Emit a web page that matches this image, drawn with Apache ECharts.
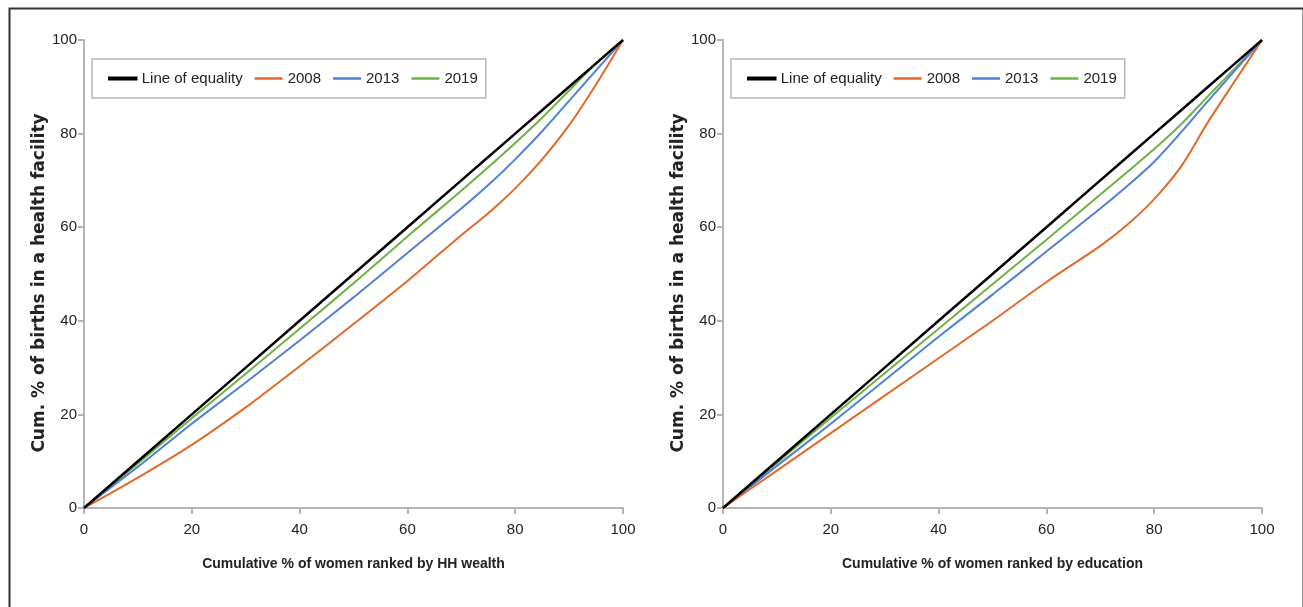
<!DOCTYPE html>
<html>
<head>
<meta charset="utf-8">
<script src="https://cdn.jsdelivr.net/npm/echarts@6/dist/echarts.min.js"></script>
<style>
html,body{margin:0;padding:0;background:#fff;}
#c{width:1303px;height:607px;}
</style>
</head>
<body>
<div id="c"></div>
<script>
// ---- data ----
const xPoints = [0, 10, 20, 30, 40, 50, 60, 70, 75, 80, 85, 90, 95, 100];
const seriesNames = ['Line of equality', '2008', '2013', '2019'];
const xTickLabels = ['0', '20', '40', '60', '80', '100'];
const yTickLabels = ['0', '20', '40', '60', '80', '100'];
const xTitles = ['Cumulative % of women ranked by HH wealth', 'Cumulative % of women ranked by education'];
const yTitle = 'Cum. % of births in a health facility';

// Panel 1: ranked by household wealth
const wealthEquality = [0, 10, 20, 30, 40, 50, 60, 70, 75, 80, 85, 90, 95, 100];
const wealth2008 = [0, 6.5, 13.5, 21.5, 30.3, 39.3, 48.5, 58.3, 63, 68.3, 74.5, 81.8, 90.5, 100];
const wealth2013 = [0, 8.8, 18, 26.8, 35.8, 45, 54.5, 64, 69, 74.5, 80.5, 87, 93.5, 100];
const wealth2019 = [0, 9.5, 19.2, 28.7, 38.3, 48, 58, 67.8, 72.8, 78, 83.4, 89.2, 95, 100];

// Panel 2: ranked by education
const eduEquality = [0, 10, 20, 30, 40, 50, 60, 70, 75, 80, 85, 90, 95, 100];
const edu2008 = [0, 8, 16, 24, 32, 40, 48.3, 56, 60.5, 66, 73, 82.5, 91.3, 100];
const edu2013 = [0, 9, 18, 27.3, 36.6, 45.6, 54.8, 64, 68.8, 74, 80.3, 87, 93.5, 100];
const edu2019 = [0, 9.6, 19.3, 28.8, 38.3, 47.8, 57.3, 67, 71.8, 76.7, 82, 88, 94, 100];

const panels = [
  [wealthEquality, wealth2008, wealth2013, wealth2019],
  [eduEquality, edu2008, edu2013, edu2019]
];

const colors = ['#000000', '#E2692A', '#4F81D6', '#6DB344'];
const widths = [2.5, 2, 2, 2];
const fontFam = '"Liberation Sans", Arial, sans-serif';

const grids = [
  {left: 84, top: 40, width: 539, height: 468},
  {left: 723, top: 40, width: 539, height: 468}
];

function pairs(ys){ return xPoints.map((x,i)=>[x, ys[i]]); }

const axisLineStyle = {color: '#B4B4B4', width: 2};

const xAxes = grids.map((g,i)=>({
  type: 'value', gridIndex: i, min: 0, max: 100, interval: 20,
  axisLine: {show: true, lineStyle: axisLineStyle},
  axisTick: {show: true, length: 6, lineStyle: axisLineStyle},
  splitLine: {show: false},
  axisLabel: {color: '#222', fontSize: 15, fontFamily: fontFam, margin: 14,
    formatter: v => xTickLabels[Math.round(v/20)]},
  name: xTitles[i], nameLocation: 'middle', nameGap: 49,
  nameTextStyle: {color: '#222', fontSize: 14, fontWeight: 'bold', fontFamily: fontFam}
}));

const yAxes = grids.map((g,i)=>({
  type: 'value', gridIndex: i, min: 0, max: 100, interval: 20,
  axisLine: {show: true, lineStyle: axisLineStyle},
  axisTick: {show: true, length: 6, lineStyle: axisLineStyle},
  splitLine: {show: false},
  axisLabel: {color: '#222', fontSize: 15, fontFamily: fontFam, margin: 7,
    formatter: v => yTickLabels[Math.round(v/20)]},
  name: yTitle, nameLocation: 'middle', nameGap: 35, nameRotate: 90,
  nameTextStyle: {color: '#222', fontSize: 17, fontWeight: 'bold', fontFamily: '"DejaVu Sans", sans-serif', padding: [0, 18, 0, 0]}
}));

const series = [];
panels.forEach((p, pi) => {
  p.forEach((ys, si) => {
    series.push({
      type: 'line', name: seriesNames[si], xAxisIndex: pi, yAxisIndex: pi,
      data: pairs(ys), smooth: si === 0 ? false : 0.3,
      showSymbol: false, symbol: 'none',
      lineStyle: {color: colors[si], width: widths[si]},
      itemStyle: {color: colors[si]},
      z: 10 - si
    });
  });
});

const legendBase = {
  orient: 'horizontal', itemWidth: 28, itemHeight: 2.5, itemGap: 12,
  borderColor: '#B8B8B8', borderWidth: 1.5, padding: [12, 8, 12, 16],
  textStyle: {color: '#222', fontSize: 15, fontFamily: fontFam},
  icon: 'rect',
  data: seriesNames.map((n,i)=>({
    name: n,
    itemStyle: i === 0 ? {color: colors[i], borderColor: colors[i], borderWidth: 1.5} : {color: colors[i], borderWidth: 0}
  }))
};

const option = {
  backgroundColor: '#fff',
  animation: false,
  grid: grids,
  xAxis: xAxes,
  yAxis: yAxes,
  legend: [
    Object.assign({}, legendBase, {left: 92, top: 59}),
    Object.assign({}, legendBase, {left: 731, top: 59})
  ],
  graphic: [{
    type: 'rect', left: 7, top: 6, shape: {width: 1294, height: 620},
    style: {fill: 'none', stroke: '#333', lineWidth: 2}, silent: true
  }],
  series: series
};

const chart = echarts.init(document.getElementById('c'), null, {renderer: 'canvas'});
chart.setOption(option);
</script>
</body>
</html>
